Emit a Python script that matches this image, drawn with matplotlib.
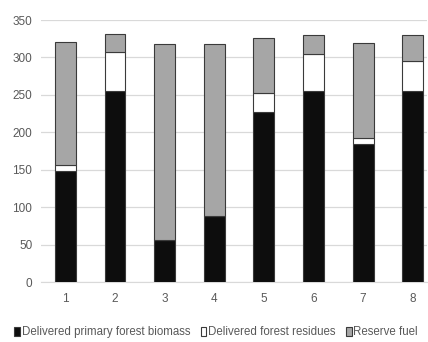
import matplotlib
matplotlib.use("Agg")
import matplotlib.pyplot as plt
import numpy as np

categories = ["1", "2", "3", "4", "5", "6", "7", "8"]
primary_biomass = [148, 255, 56, 88, 227, 255, 185, 255]
forest_residues = [8, 52, 0, 0, 26, 50, 8, 40]
reserve_fuel = [165, 24, 262, 230, 73, 25, 126, 35]

plt.rcParams['font.family'] = ['Liberation Sans', 'DejaVu Sans']

fig = plt.figure(figsize=(4.28, 3.42), dpi=100)
ax = fig.add_axes([0.095, 0.175, 0.903, 0.7665])

x = np.arange(len(categories))
w = 0.42
edge = "#3a3a3a"
p = np.array(primary_biomass)
r = np.array(forest_residues)
f = np.array(reserve_fuel)

ax.bar(x, p, w, color="#0d0d0d", edgecolor=edge, linewidth=0.8,
       label="Delivered primary forest biomass", zorder=3)
ax.bar(x, r, w, bottom=p, color="#ffffff", edgecolor=edge, linewidth=0.8,
       label="Delivered forest residues", zorder=3)
ax.bar(x, f, w, bottom=p + r, color="#a6a6a6", edgecolor=edge, linewidth=0.8,
       label="Reserve fuel", zorder=3)

ax.set_ylim(0, 350)
ax.set_xlim(-0.5, 7.29)
ax.set_yticks(range(0, 351, 50))
ax.set_xticks(x)
ax.set_xticklabels(categories)
ax.yaxis.grid(True, color="#d9d9d9", linewidth=0.9)
ax.set_axisbelow(True)
for s in ["top", "right", "left"]:
    ax.spines[s].set_visible(False)
ax.spines["bottom"].set_color("#d9d9d9")
ax.tick_params(axis="both", length=0, colors="#595959", labelsize=8.5, pad=6)
ax.tick_params(axis="x", pad=8)

fig.legend(loc="lower center", bbox_to_anchor=(0.505, -0.02), ncol=3, frameon=False,
           handlelength=0.5, handleheight=0.9, handletextpad=0.15, columnspacing=0.9,
           fontsize=8.3, labelcolor="#595959")

fig.savefig("out.png", dpi=100)
